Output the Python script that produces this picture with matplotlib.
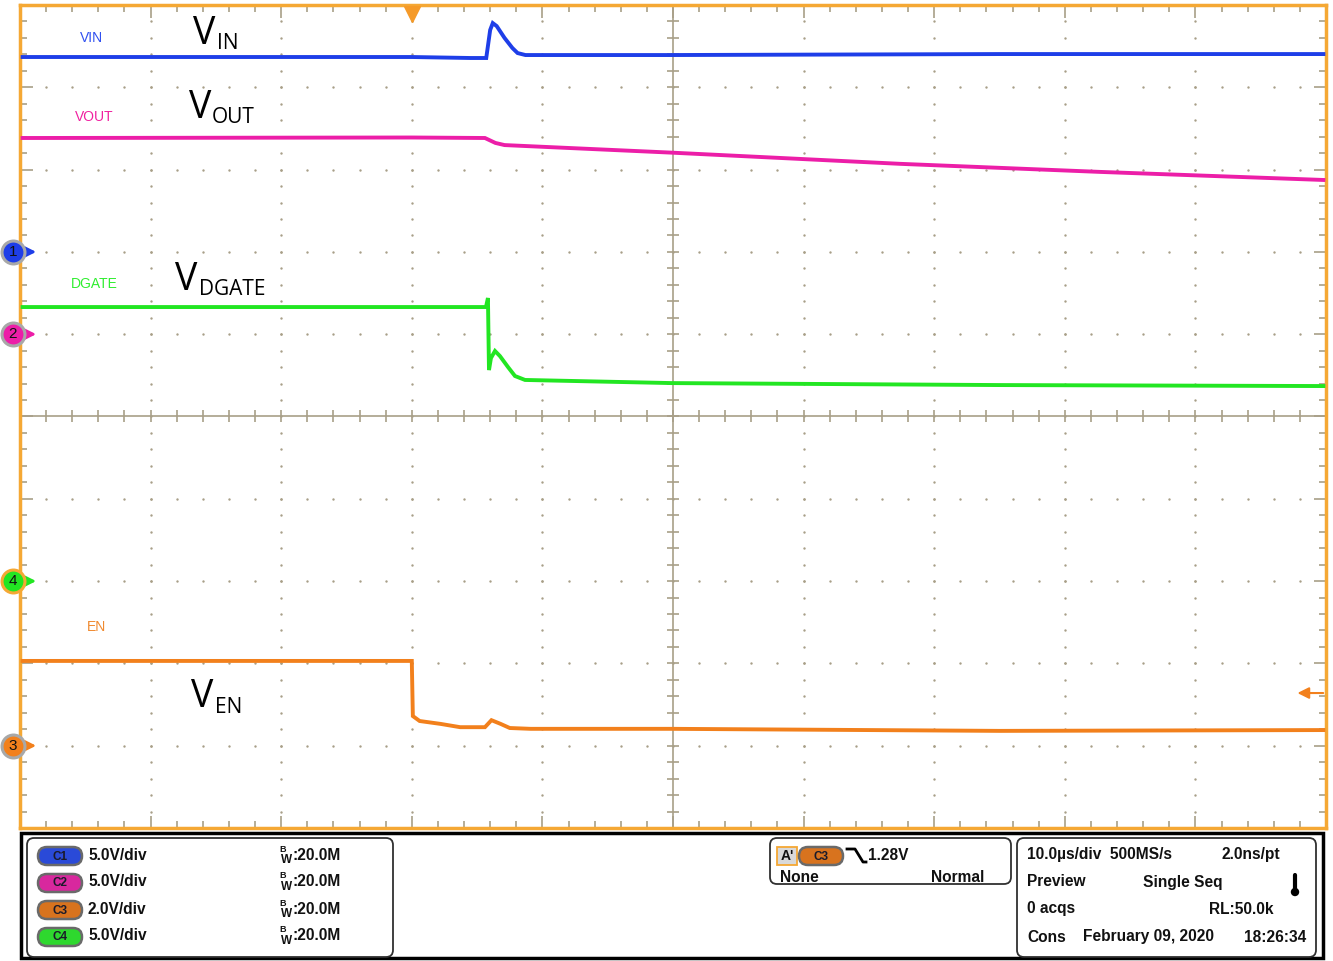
import numpy as np
import matplotlib.pyplot as plt
from matplotlib.patches import FancyBboxPatch, Rectangle, Circle
from matplotlib.transforms import blended_transform_factory

plt.rcParams['font.family'] = ['Liberation Sans', 'DejaVu Sans']

# time axis in us, 10 us/div, trigger at t = 0
t_min, t_max = -30, 70

# CH1 - VIN, 5 V/div, ground marker at div 7
vin_t = [-29.8, 0, 4.5, 5.7, 6.0, 6.2, 6.5, 7.1, 7.7, 8.1, 8.7, 19.9, 45.0, 69.8]
vin_v = [11.84, 11.84, 11.78, 11.78, 13.48, 13.9, 13.72, 13.0, 12.39, 12.08, 11.96, 11.96, 12.02, 12.02]

# CH2 - VOUT, 5 V/div, ground marker at div 6
vout_t = [-29.8, 0, 5.6, 6.4, 7.1, 19.9, 37.4, 52.7, 69.8]
vout_v = [11.92, 11.95, 11.92, 11.62, 11.49, 11.03, 10.35, 9.86, 9.37]

# CH3 - EN, 2 V/div, ground marker at div 1
en_t = [-29.8, 0, 0.08, 0.6, 2.2, 3.7, 5.6, 6.1, 6.8, 7.5, 9.1, 19.9, 45.0, 69.8]
en_v = [2.06, 2.06, 0.72, 0.60, 0.53, 0.45, 0.45, 0.62, 0.53, 0.43, 0.41, 0.41, 0.36, 0.38]

# CH4 - DGATE, 5 V/div, ground marker at div 3
dg_t = [-29.8, 5.68, 5.83, 5.91, 6.06, 6.37, 6.75, 7.37, 7.9, 8.67, 19.9, 45.0, 69.8]
dg_v = [16.65, 16.65, 17.2, 12.82, 13.55, 13.98, 13.67, 13.0, 12.46, 12.22, 12.03, 11.91, 11.85]

channels = [
    # name, t, v, V/div, offset(div), color, marker id
    ('VIN', vin_t, vin_v, 5.0, 7, '#1e3ee8', '1'),
    ('VOUT', vout_t, vout_v, 5.0, 6, '#ec1ea8', '2'),
    ('EN', en_t, en_v, 2.0, 1, '#f2801c', '3'),
    ('DGATE', dg_t, dg_v, 5.0, 3, '#22e622', '4'),
]
trig_level = 1.28  # V on CH3

orange = '#f5a834'
gridc = '#a89f88'

fig = plt.figure(figsize=(13.33, 9.61), dpi=100)
W, H = 1333, 961
ax = fig.add_axes([20 / W, 1 - 828 / H, 1306 / W, 823 / H])
ax.set_xlim(t_min, t_max)
ax.set_ylim(0, 10)

# ticks on the frame
ax.set_xticks(np.arange(t_min, t_max + 1, 10))
ax.set_xticks(np.arange(t_min, t_max + 0.1, 2), minor=True)
ax.set_yticks(np.arange(0, 11, 1))
ax.set_yticks(np.arange(0, 10.01, 0.2), minor=True)
ax.tick_params(which='both', direction='in', top=True, right=True,
               labelbottom=False, labelleft=False, color=gridc, width=1.2)
ax.tick_params(which='major', length=9)
ax.tick_params(which='minor', length=5)
for s in ax.spines.values():
    s.set_color(orange)
    s.set_linewidth(2.5)

# dotted graticule
for xv in np.arange(t_min + 10, t_max, 10):
    if xv == 20:
        continue
    yy = np.arange(0.2, 10, 0.2)
    ax.scatter(np.full(len(yy), xv), yy, s=3, color=gridc, linewidths=0, zorder=1)
for yv in range(1, 10):
    if yv == 5:
        continue
    xx = np.arange(t_min + 2, t_max, 2)
    ax.scatter(xx, np.full(len(xx), yv), s=3, color=gridc, linewidths=0, zorder=1)

# center cross with ticks
ax.axvline(20, color=gridc, lw=1.2, zorder=1)
ax.axhline(5, color=gridc, lw=1.2, zorder=1)
xx = np.arange(t_min, t_max + 0.1, 2)
ax.plot(xx, np.full(len(xx), 5), ls='none', marker='|', ms=8, mew=1.2, color=gridc, zorder=1)
yy = np.arange(0, 10.01, 0.2)
ax.plot(np.full(len(yy), 20), yy, ls='none', marker='_', ms=8, mew=1.2, color=gridc, zorder=1)

# traces
for name, t, v, sc, off, c, mid in channels:
    ax.plot(t, off + np.array(v) / sc, color=c, lw=2.8, zorder=3, solid_joinstyle='miter')

# channel ground markers
tr = blended_transform_factory(ax.transAxes, ax.transData)
for name, t, v, sc, off, c, mid in channels:
    ec = orange if mid == '4' else '#a8a8a8'
    ax.annotate('', xy=(0.0145, off), xycoords=tr, xytext=(0.0, off), textcoords=tr,
                arrowprops=dict(arrowstyle='-|>', color=c, lw=2, mutation_scale=15),
                zorder=6, annotation_clip=False)
    ax.plot([-0.0054], [off], marker='o', ms=16.5, mfc=c, mec=ec, mew=2.2,
            transform=tr, clip_on=False, zorder=7)
    ax.text(-0.0054, off, mid, transform=tr, ha='center', va='center',
            fontsize=11, color='#111111', zorder=8)

# trigger position and level
trt = blended_transform_factory(ax.transData, ax.transAxes)
ax.plot([0], [0.989], marker='v', ms=11, color='#f59a28', transform=trt,
        clip_on=False, zorder=6)
ax.annotate('', xy=(0.976, 1 + trig_level / 2.0), xycoords=tr,
            xytext=(1.0, 1 + trig_level / 2.0), textcoords=tr,
            arrowprops=dict(arrowstyle='-|>', color='#f2801c', lw=1.5, mutation_scale=17),
            annotation_clip=False, zorder=6)

# overlay in pixel coordinates for labels and status panel
ov = fig.add_axes([0, 0, 1, 1], facecolor='none')
ov.set_xlim(0, W)
ov.set_ylim(H, 0)
ov.axis('off')

small_labels = [('VIN', 80, 38, '#3050f0'), ('VOUT', 75, 117, '#f020a0'),
                ('DGATE', 71, 284, '#30ee30'), ('EN', 87, 627, '#f08a30')]
for s, x, y, c in small_labels:
    ov.text(x, y, s, color=c, fontsize=10, ha='left', va='center')

big_labels = [('IN', 193, 44, 217, 49), ('OUT', 189, 118, 212, 123),
              ('DGATE', 175, 290, 199, 295), ('EN', 191, 707, 215, 713)]
for sub, xv, yv, xs, ys in big_labels:
    ov.text(xv, yv, 'V', fontsize=27, family='Open Sans', ha='left', va='baseline', color='black')
    ov.text(xs, ys, sub, fontsize=15, family='Open Sans', ha='left', va='baseline', color='black')

# status panel
ov.add_patch(Rectangle((21, 833), 1302, 125, fill=False, ec='black', lw=2.5))
for x0, y0, w0, h0 in [(27, 838, 366, 119), (770, 838, 241, 46), (1017, 838, 299, 119)]:
    ov.add_patch(FancyBboxPatch((x0, y0), w0, h0, boxstyle='round,pad=0,rounding_size=7',
                                fc='white', ec='#303030', lw=1.3))

pill_colors = ['#2a4ad8', '#d8289e', '#d8731e', '#2ed82e']
pill_names = ['C1', 'C2', 'C3', 'C4']
vdiv = ['5.0V/div', '5.0V/div', '2.0V/div', '5.0V/div']
bold = dict(fontsize=11.2, fontweight='bold', color='#111111', va='center', ha='left')


def pill(x, y, c, label):
    ov.add_patch(FancyBboxPatch((x, y - 9), 44, 18, boxstyle='round,pad=0,rounding_size=9',
                                fc=c, ec='#6a6a6a', lw=1.8))
    ov.text(x + 22, y + 0.5, label, fontsize=8.5, fontweight='bold', color='#1a1a2a',
            ha='center', va='center')


for i in range(4):
    yc = 856 + 27 * i
    pill(38, yc, pill_colors[i], pill_names[i])
    ov.text(88, yc - 1, vdiv[i], **bold)
    ov.text(279, yc - 7, 'B', fontsize=6.5, fontweight='bold', color='#111111', ha='left', va='center')
    ov.text(281, yc + 4, 'W', fontsize=8.5, fontweight='bold', color='#111111', ha='left', va='center')
    ov.text(292, yc - 1, ':20.0M', **bold)

# trigger box
ov.add_patch(Rectangle((777, 847), 20, 18, fc='#d9d9d9', ec=orange, lw=1.3))
ov.text(787, 856, "A'", fontsize=10, fontweight='bold', color='#111111', ha='center', va='center')
pill(799, 856, '#d8731e', 'C3')
ov.plot([847, 855, 863, 866], [849, 849, 862, 862], color='black', lw=2)
ov.text(868, 855, '1.28V', **bold)
ov.text(780, 877, 'None', **bold)
ov.text(931, 877, 'Normal', **bold)

# acquisition box
ov.text(1027, 855, '10.0\u00b5s/div  500MS/s', **bold)
ov.text(1222, 855, '2.0ns/pt', **bold)
ov.text(1027, 882, 'Preview', **bold)
ov.text(1143, 882, 'Single Seq', **bold)
ov.plot([1295, 1295], [875, 890], color='black', lw=3, solid_capstyle='round')
ov.add_patch(Circle((1295, 892), 3.5, color='black'))
ov.text(1027, 909, '0 acqs', **bold)
ov.text(1209, 909, 'RL:50.0k', **bold)
ov.text(1027, 937, 'Cons', **bold)
ov.text(1083, 937, 'February 09, 2020', **bold)
ov.text(1244, 937, '18:26:34', **bold)

fig.savefig('out.png', dpi=100)
